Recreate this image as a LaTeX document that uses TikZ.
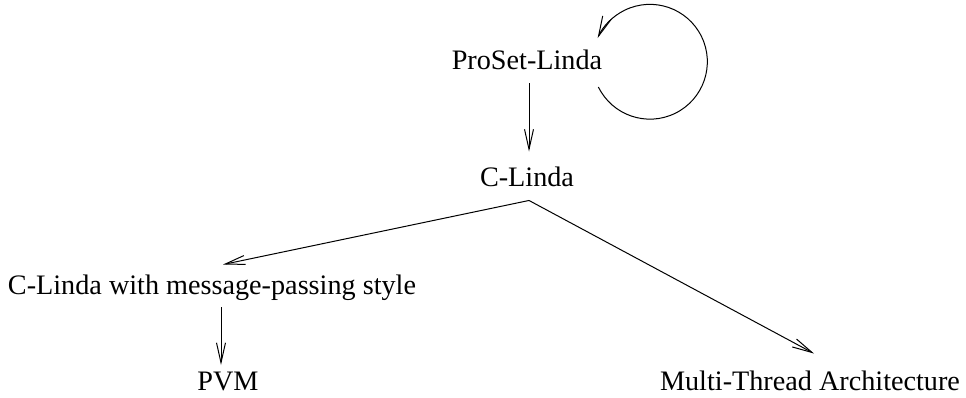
\documentclass[tikz,border=0pt]{standalone}
\usepackage{fontspec}
\setmainfont{Liberation Serif}
\usetikzlibrary{arrows.meta}
\begin{document}
\begin{tikzpicture}[x=1pt,y=-1pt,
  lbl/.style={anchor=base, inner sep=3pt, font=\fontsize{28.2pt}{34pt}\selectfont},
  arr/.style={draw, line width=1pt, -{Straight Barb[length=20pt,width=9pt]}}]
\useasboundingbox (0,0) rectangle (966,398);
\node[lbl] (ps) at (527,70) {ProSet-Linda};
\node[lbl] (cl) at (527,187) {C-Linda};
\node[lbl] (cm) at (212,294) {C-Linda with message-passing style};
\node[lbl] (pvm) at (228,390) {PVM};
\node[lbl] (mt) at (810,390) {Multi-Thread Architecture};
\draw[arr] ([shift={(2pt,-10pt)}]ps.south) -- ([shift={(2pt,12.7pt)}]cl.north);
\draw[arr] ([shift={(2pt,-10pt)}]cl.south) -- ([shift={(11pt,6.7pt)}]cm.north);
\draw[arr] ([shift={(2pt,-10pt)}]cl.south) -- ([shift={(4pt,13.7pt)}]mt.north);
\draw[arr] ([shift={(9pt,-3.9pt)}]cm.south) -- ([shift={(-7pt,3.3pt)}]pvm.north);
\draw[arr] ([shift={(-7pt,-26.65pt)}]ps.east) arc[start angle=206.1, end angle=515.7, x radius=57.4pt, y radius=57.4pt];
\end{tikzpicture}
\end{document}
